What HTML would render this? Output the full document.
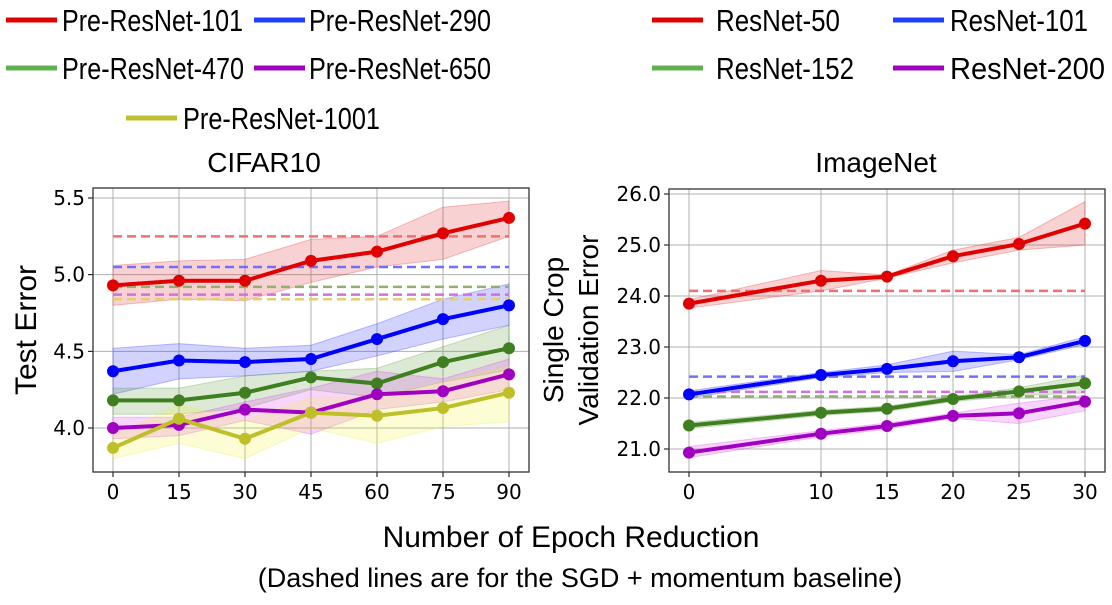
<!DOCTYPE html>
<html><head><meta charset="utf-8"><style>
body{margin:0;background:#fff;}
svg text{font-family:"Liberation Sans",sans-serif;fill:#000;}
.tick{font-family:"DejaVu Sans","Liberation Sans",sans-serif;font-size:20px;}
</style></head><body>
<svg id="fig" width="1112" height="600" viewBox="0 0 1112 600" xmlns="http://www.w3.org/2000/svg">
<g id="legendL"></g>
<g id="legendR"></g>
<text x="264" y="172" font-size="28" text-anchor="middle">CIFAR10</text>
<text x="876" y="172" font-size="28" text-anchor="middle">ImageNet</text>
<text transform="translate(36,330) rotate(-90)" font-size="30" text-anchor="middle">Test Error</text>
<text transform="translate(563,330) rotate(-90)" font-size="28" text-anchor="middle">Single Crop</text>
<text transform="translate(598,330) rotate(-90)" font-size="28" text-anchor="middle">Validation Error</text>
<text x="571" y="547" font-size="30" text-anchor="middle">Number of Epoch Reduction</text>
<text x="580" y="587" font-size="27" text-anchor="middle">(Dashed lines are for the SGD + momentum baseline)</text>
<g id="plotL"></g>
<g id="plotR"></g>
</svg>
<script>
const NS="http://www.w3.org/2000/svg";
// CIFAR10 data
const cifarX=[0,15,30,45,60,75,90];
const cifarTicksY=[4.0,4.5,5.0,5.5];
const cifarNames=["Pre-ResNet-101","Pre-ResNet-290","Pre-ResNet-470","Pre-ResNet-650","Pre-ResNet-1001"];
const cRed=[4.93,4.96,4.96,5.09,5.15,5.27,5.37];
const cRedLo=[4.80,4.84,4.83,4.95,5.05,5.10,5.25];
const cRedHi=[5.06,5.09,5.10,5.23,5.25,5.44,5.48];
const cBlue=[4.37,4.44,4.43,4.45,4.58,4.71,4.80];
const cBlueLo=[4.22,4.32,4.34,4.37,4.47,4.58,4.67];
const cBlueHi=[4.52,4.55,4.52,4.54,4.68,4.84,4.94];
const cGreen=[4.18,4.18,4.23,4.33,4.29,4.43,4.52];
const cGreenLo=[4.09,4.09,4.13,4.25,4.20,4.30,4.38];
const cGreenHi=[4.26,4.26,4.34,4.37,4.39,4.53,4.67];
const cPurple=[4.00,4.02,4.12,4.10,4.22,4.24,4.35];
const cPurpleLo=[3.93,3.95,4.05,3.96,4.12,4.17,4.25];
const cPurpleHi=[4.07,4.07,4.17,4.26,4.37,4.32,4.45];
const cYellow=[3.87,4.06,3.93,4.10,4.08,4.13,4.23];
const cYellowLo=[3.80,3.90,3.80,4.00,3.90,4.01,4.04];
const cYellowHi=[3.95,4.15,4.05,4.20,4.20,4.30,4.40];
const cBaseline=[5.25,5.05,4.92,4.87,4.84];
// ImageNet data
const imX=[0,10,15,20,25,30];
const imTicksY=[21.0,22.0,23.0,24.0,25.0,26.0];
const imNames=["ResNet-50","ResNet-101","ResNet-152","ResNet-200"];
const iRed=[23.85,24.30,24.38,24.78,25.02,25.42];
const iRedLo=[23.76,24.10,24.35,24.65,24.90,25.00];
const iRedHi=[23.93,24.50,24.41,24.90,25.15,25.85];
const iBlue=[22.07,22.45,22.57,22.72,22.80,23.12];
const iBlueLo=[22.00,22.40,22.50,22.52,22.75,23.05];
const iBlueHi=[22.14,22.50,22.65,22.92,22.85,23.20];
const iGreen=[21.46,21.71,21.79,21.98,22.13,22.29];
const iGreenLo=[21.40,21.66,21.74,21.93,22.05,22.10];
const iGreenHi=[21.52,21.76,21.84,22.03,22.20,22.45];
const iPurple=[20.93,21.30,21.45,21.65,21.70,21.93];
const iPurpleLo=[20.83,21.24,21.39,21.60,21.50,21.75];
const iPurpleHi=[21.05,21.36,21.51,21.70,21.90,22.05];
const iBaseline=[24.10,22.42,22.03,22.12];

const colors=["#e00000","#0000ff","#3f7f1f","#a000c0","#bfbf2a"];
const fills=["#e03030","#3030ff","#5a9a40","#e040f0","#f0f040"];
const dashC=["#f07070","#7070ff","#90b070","#d070e0","#e0d070"];
const legC=["#e00000","#2040ff","#60b050","#a000c0","#bfbf30"];

function el(tag,attrs,parent){const e=document.createElementNS(NS,tag);for(const k in attrs)e.setAttribute(k,attrs[k]);parent.appendChild(e);return e;}

// cfg: frame L,R,T,B ; xa,xb pixel of xmin/xmax ; ya,yb pixel of yLo/yHi
function drawPlot(g,cfg,xs,ticksY,series,baselines,prefix){
  const xmin=xs[0],xmax=xs[xs.length-1];
  const sx=v=>cfg.xa+(v-xmin)/(xmax-xmin)*(cfg.xb-cfg.xa);
  const sy=v=>cfg.ya+(v-cfg.yLo)/(cfg.yHi-cfg.yLo)*(cfg.yb-cfg.ya);
  const L=cfg.L,R=cfg.R,T=cfg.T,B=cfg.B;
  xs.forEach(v=>{
    const t=el('line',{x1:sx(v),x2:sx(v),y1:T,y2:B,stroke:'#b0b0b0','stroke-width':1},g);
    
    
    const tk=el('line',{x1:sx(v),x2:sx(v),y1:B,y2:B+5,stroke:'#000'},g);
    
    
    const lb=el('text',{x:sx(v),y:B+27,'text-anchor':'middle',class:'tick'},g);
    lb.textContent=String(v);
    
    
  });
  ticksY.forEach(v=>{
    const t=el('line',{x1:L,x2:R,y1:sy(v),y2:sy(v),stroke:'#b0b0b0','stroke-width':1},g);
    
    
    const tk=el('line',{x1:L-5,x2:L,y1:sy(v),y2:sy(v),stroke:'#000'},g);
    
    
    const lb=el('text',{x:L-8,y:sy(v)+7,'text-anchor':'end',class:'tick'},g);
    lb.textContent=v.toFixed(1);
    
    
  });
  series.forEach((s,i)=>{
    let d='M'+xs.map((x,j)=>sx(x)+','+sy(s.hi[j])).join('L');
    d+='L'+xs.map((x,j)=>sx(x)+','+sy(s.lo[j])).reverse().join('L')+'Z';
    const b=el('path',{d:d,fill:fills[i],'fill-opacity':0.22,stroke:fills[i],'stroke-opacity':0.3},g);
    
    
  });
  baselines.forEach((v,i)=>{
    const b=el('line',{x1:sx(xmin),x2:sx(xmax),y1:sy(v),y2:sy(v),stroke:dashC[i],'stroke-width':2.5,'stroke-dasharray':'9,5'},g);
    
    
  });
  series.forEach((s,i)=>{
    const p=el('polyline',{points:xs.map((x,j)=>sx(x)+','+sy(s.m[j])).join(' '),fill:'none',stroke:colors[i],'stroke-width':4},g);
    
    
    xs.forEach((x,j)=>{
      const c=el('circle',{cx:sx(x),cy:sy(s.m[j]),r:6,fill:colors[i]},g);
      
      
    });
  });
  const fr=el('rect',{x:L,y:T,width:R-L,height:B-T,fill:'none',stroke:'#333','stroke-width':1.3},g);
  
  
}

drawPlot(document.getElementById('plotL'),{L:93,R:529,T:188,B:472,xa:113,xb:509,yLo:4.0,yHi:5.5,ya:428,yb:198},cifarX,cifarTicksY,
 [{m:cRed,lo:cRedLo,hi:cRedHi},{m:cBlue,lo:cBlueLo,hi:cBlueHi},{m:cGreen,lo:cGreenLo,hi:cGreenHi},{m:cPurple,lo:cPurpleLo,hi:cPurpleHi},{m:cYellow,lo:cYellowLo,hi:cYellowHi}],cBaseline,'cifar');
drawPlot(document.getElementById('plotR'),{L:669,R:1105,T:189,B:472,xa:689,xb:1085,yLo:21.0,yHi:26.0,ya:449,yb:194},imX,imTicksY,
 [{m:iRed,lo:iRedLo,hi:iRedHi},{m:iBlue,lo:iBlueLo,hi:iBlueHi},{m:iGreen,lo:iGreenLo,hi:iGreenHi},{m:iPurple,lo:iPurpleLo,hi:iPurpleHi}],iBaseline,'imagenet');

function legend(g,items,prefix){
  items.forEach((it,i)=>{
    const l=el('line',{x1:it.lx,x2:it.lx+51,y1:it.y,y2:it.y,stroke:legC[it.c],'stroke-width':5},g);
    
    
    const t=el('text',{x:it.tx,y:it.y+11,'font-size':31,textLength:it.w,lengthAdjust:'spacingAndGlyphs'},g);
    t.textContent=it.name;
    
    
  });
}
legend(document.getElementById('legendL'),[
 {lx:6,tx:62,y:20,c:0,w:181,name:cifarNames[0]},
 {lx:254,tx:309,y:20,c:1,w:182,name:cifarNames[1]},
 {lx:6,tx:62,y:68,c:2,w:182,name:cifarNames[2]},
 {lx:254,tx:309,y:68,c:3,w:182,name:cifarNames[3]},
 {lx:126,tx:183,y:118,c:4,w:197,name:cifarNames[4]}],'cifar');
legend(document.getElementById('legendR'),[
 {lx:652,tx:716,y:20,c:0,w:124,name:imNames[0]},
 {lx:893,tx:950,y:20,c:1,w:138,name:imNames[1]},
 {lx:652,tx:716,y:68,c:2,w:138,name:imNames[2]},
 {lx:893,tx:950,y:68,c:3,w:155,name:imNames[3]}],'imagenet');
</script>
</body></html>
